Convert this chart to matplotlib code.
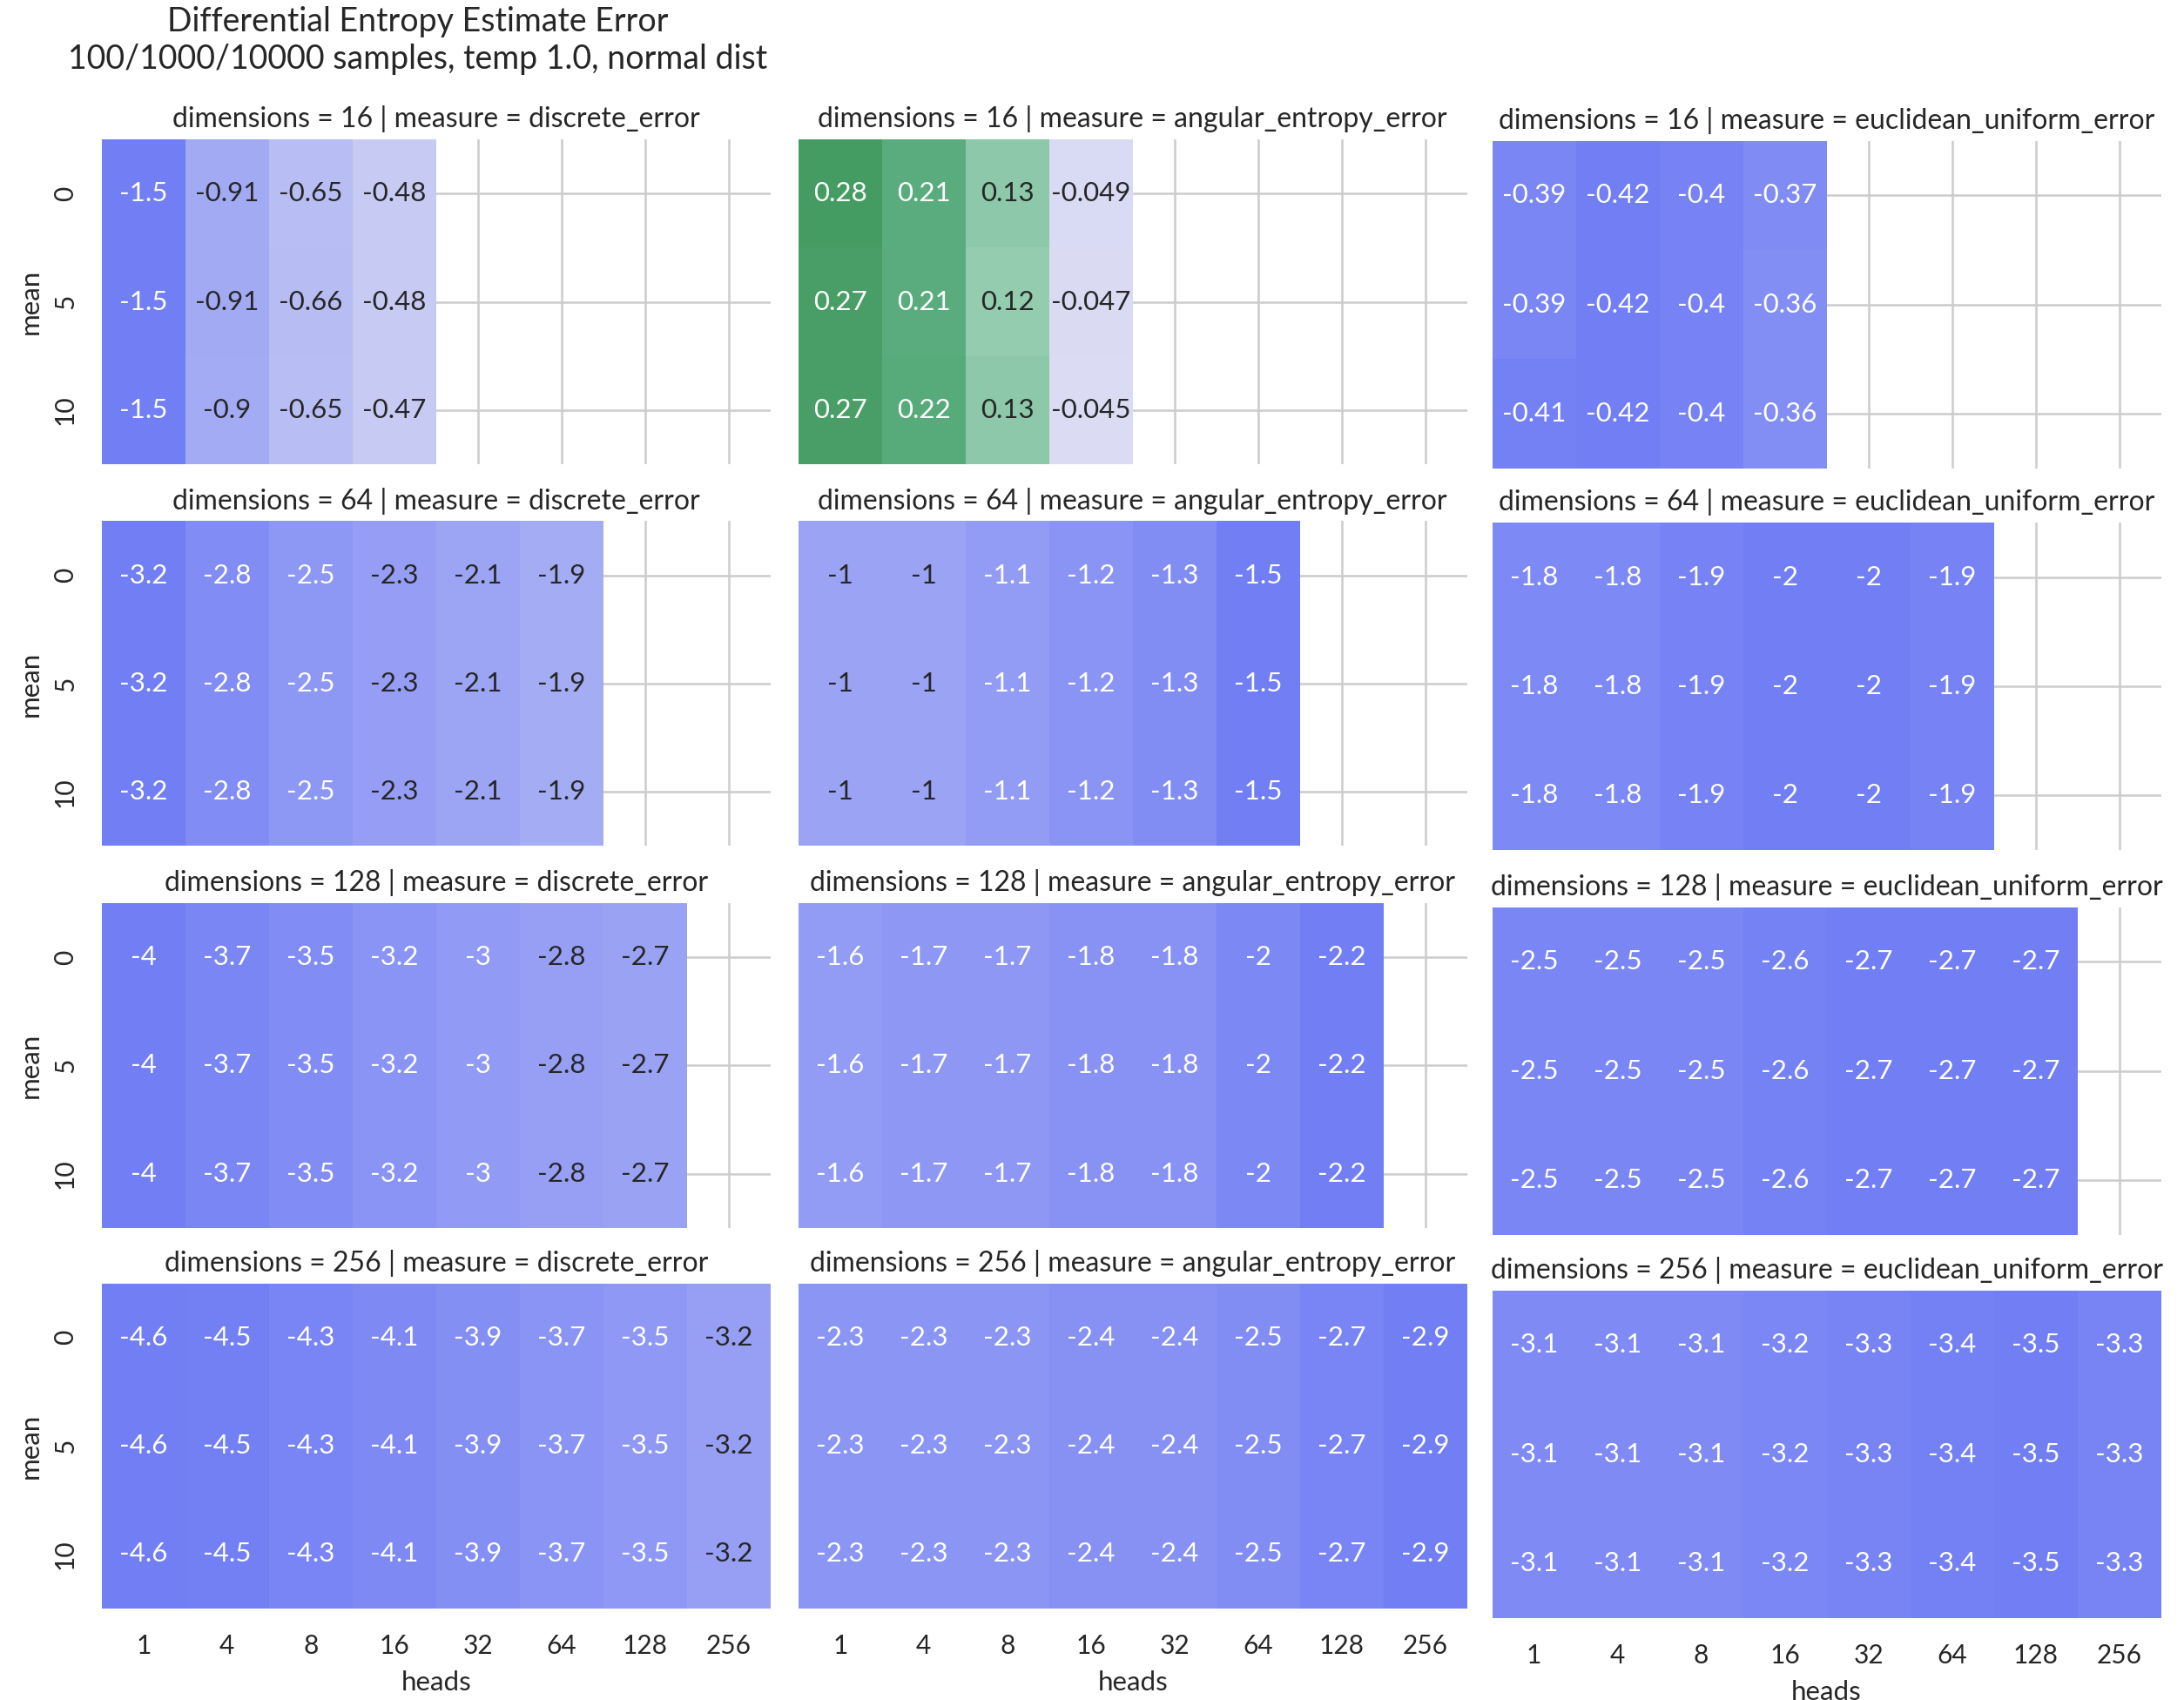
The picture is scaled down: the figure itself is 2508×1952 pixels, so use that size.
import numpy as np
import matplotlib
matplotlib.use("Agg")
import matplotlib.pyplot as plt
from matplotlib.colors import LinearSegmentedColormap, Normalize

# ---------------- data ----------------
heads = [1, 4, 8, 16, 32, 64, 128, 256]
means = [0, 5, 10]
dimensions = [16, 64, 128, 256]
measures = ["discrete_error", "angular_entropy_error", "euclidean_uniform_error"]

discrete_16 = [[-1.5, -0.91, -0.65, -0.48],
               [-1.5, -0.91, -0.66, -0.48],
               [-1.5, -0.9, -0.65, -0.47]]
discrete_64 = [[-3.2, -2.8, -2.5, -2.3, -2.1, -1.9]] * 3
discrete_128 = [[-4.0, -3.7, -3.5, -3.2, -3.0, -2.8, -2.7]] * 3
discrete_256 = [[-4.6, -4.5, -4.3, -4.1, -3.9, -3.7, -3.5, -3.2]] * 3

angular_16 = [[0.28, 0.21, 0.13, -0.049],
              [0.27, 0.21, 0.12, -0.047],
              [0.27, 0.22, 0.13, -0.045]]
angular_64 = [[-1.0, -1.0, -1.1, -1.2, -1.3, -1.5]] * 3
angular_128 = [[-1.6, -1.7, -1.7, -1.8, -1.8, -2.0, -2.2]] * 3
angular_256 = [[-2.3, -2.3, -2.3, -2.4, -2.4, -2.5, -2.7, -2.9]] * 3

euclidean_16 = [[-0.39, -0.42, -0.4, -0.37],
                [-0.39, -0.42, -0.4, -0.36],
                [-0.41, -0.42, -0.4, -0.36]]
euclidean_64 = [[-1.8, -1.8, -1.9, -2.0, -2.0, -1.9]] * 3
euclidean_128 = [[-2.5, -2.5, -2.5, -2.6, -2.7, -2.7, -2.7]] * 3
euclidean_256 = [[-3.1, -3.1, -3.1, -3.2, -3.3, -3.4, -3.5, -3.3]] * 3

values = {
    (16, "discrete_error"): discrete_16,
    (64, "discrete_error"): discrete_64,
    (128, "discrete_error"): discrete_128,
    (256, "discrete_error"): discrete_256,
    (16, "angular_entropy_error"): angular_16,
    (64, "angular_entropy_error"): angular_64,
    (128, "angular_entropy_error"): angular_128,
    (256, "angular_entropy_error"): angular_256,
    (16, "euclidean_uniform_error"): euclidean_16,
    (64, "euclidean_uniform_error"): euclidean_64,
    (128, "euclidean_uniform_error"): euclidean_128,
    (256, "euclidean_uniform_error"): euclidean_256,
}

title_text = "Differential Entropy Estimate Error\n100/1000/10000 samples, temp 1.0, normal dist"

# ---------------- style ----------------
FONT = ["Lato", "DejaVu Sans"]
plt.rcParams["font.family"] = FONT
TXT = "#262626"

cmap = LinearSegmentedColormap.from_list(
    "div",
    [(0.0, "#717ef4"), (0.5, "#efeef3"), (0.73, "#8dc9aa"),
     (0.875, "#5aac7e"), (1.0, "#459c63")])


def rel_lum(rgb):
    rgb = np.asarray(rgb[:3], float)
    lin = np.where(rgb <= 0.03928, rgb / 12.92, ((rgb + 0.055) / 1.055) ** 2.4)
    return 0.2126 * lin[0] + 0.7152 * lin[1] + 0.0722 * lin[2]


LUM_THR = rel_lum(cmap(0.1385))

W, H = 2508, 1952
DPI = 100
fig = plt.figure(figsize=(W / DPI, H / DPI), dpi=DPI)
fig.patch.set_facecolor("white")

col_left = [116.8, 916.8, 1713.6]
col_width = 768.0
row_top = {0: [160.0, 598.4, 1036.8, 1473.6],
           1: [160.0, 598.4, 1036.8, 1473.6],
           2: [161.6, 600.0, 1041.6, 1481.6]}
row_height = {0: 373.0, 1: 373.0, 2: 376.0}

for r, dim in enumerate(dimensions):
    for c, meas in enumerate(measures):
        vals = np.array(values[(dim, meas)], float)
        n = vals.shape[1]
        full = np.full((len(means), len(heads)), np.nan)
        full[:, :n] = vals

        l = col_left[c] / W
        t = row_top[c][r]
        h = row_height[c]
        b = 1 - (t + h) / H
        ax = fig.add_axes([l, b, col_width / W, h / H])
        ax.set_facecolor("white")

        vr = max(np.nanmax(vals), -np.nanmin(vals))
        norm = Normalize(-vr, vr)
        ax.pcolormesh(np.arange(len(heads) + 1), np.arange(len(means) + 1),
                      np.ma.masked_invalid(full), cmap=cmap, norm=norm,
                      shading="flat", zorder=1)

        for i in range(len(means)):
            for j in range(n):
                v = full[i, j]
                col = cmap(norm(v))
                tc = TXT if rel_lum(col) > LUM_THR else "white"
                ax.text(j + 0.5, i + 0.5, f"{v:.2g}", ha="center", va="center",
                        color=tc, fontsize=22.5, zorder=3)

        ax.set_xlim(0, len(heads))
        ax.set_ylim(len(means), 0)
        ax.set_xticks(np.arange(len(heads)) + 0.5)
        ax.set_yticks(np.arange(len(means)) + 0.5)
        ax.grid(True, color="#cccccc", linewidth=1.8)
        ax.set_axisbelow(True)
        for s in ax.spines.values():
            s.set_visible(False)
        ax.tick_params(length=0, colors=TXT, labelsize=21.5)
        ax.tick_params(axis="x", pad=21)
        ax.tick_params(axis="y", pad=20)

        if r == len(dimensions) - 1:
            ax.set_xticklabels([str(x) for x in heads])
            ax.set_xlabel("heads", fontsize=22.5, color=TXT, labelpad=10)
        else:
            ax.set_xticklabels([])
        if c == 0:
            ax.set_yticklabels([str(m) for m in means], rotation=90, va="center")
            ax.set_ylabel("mean", fontsize=22.5, color=TXT, labelpad=9)
        else:
            ax.set_yticklabels([])

        ax.set_title(f"dimensions = {dim} | measure = {meas}",
                     fontsize=23, color=TXT, pad=10)

fig.text(480 / W, 1 - 46.5 / H, title_text, ha="center", va="center",
         multialignment="center", fontsize=27, color=TXT, linespacing=1.22)

fig.savefig("out.png", dpi=DPI, facecolor="white")
